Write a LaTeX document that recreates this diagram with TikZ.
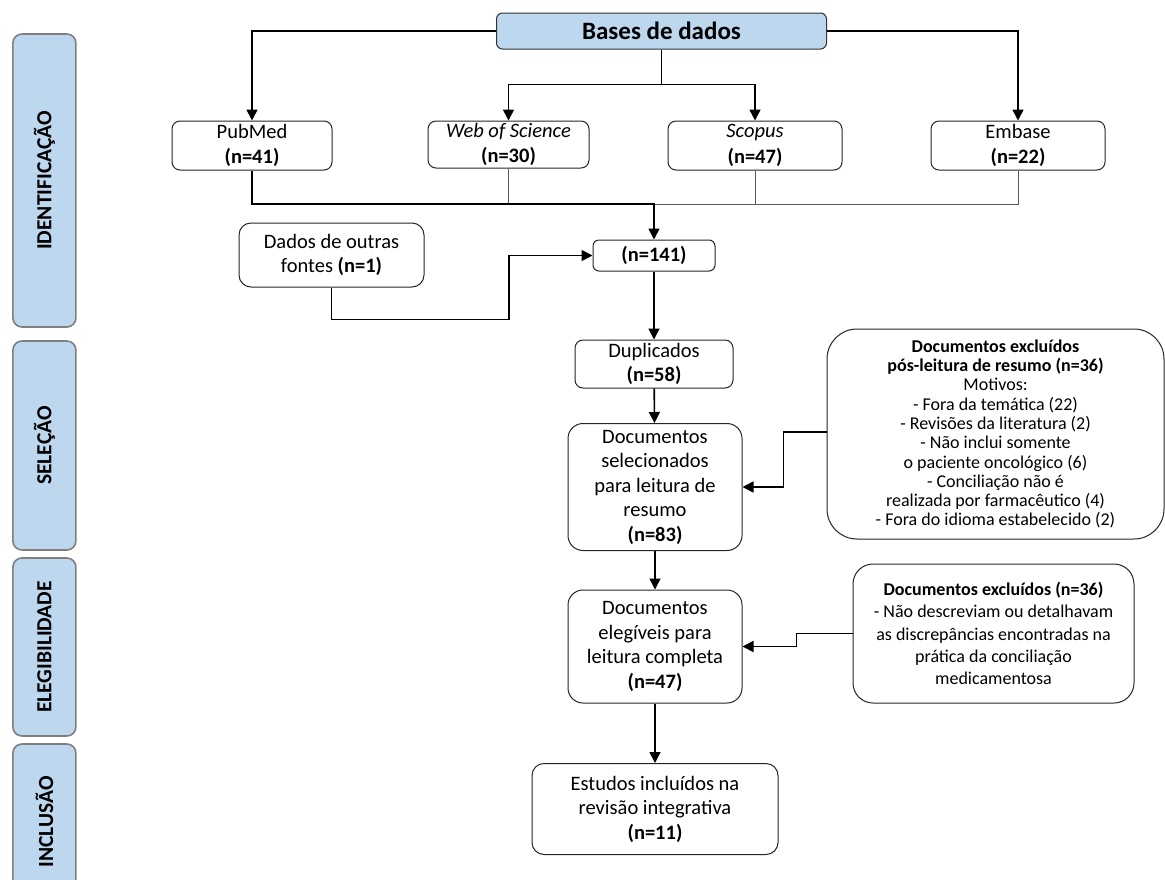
\documentclass[tikz,border=0pt]{standalone}
\usepackage{fontspec}
\setmainfont{Carlito}
\usepackage{tikz}
\usetikzlibrary{arrows.meta, positioning, shapes.geometric}
\definecolor{phaseBlue}{HTML}{BDD7EE}
\definecolor{phaseGray}{HTML}{7F7F7F}
\definecolor{lineGray}{HTML}{595959}

\begin{document}
\begin{tikzpicture}[x=1pt,y=-1pt,
 box/.style={rectangle,rounded corners=8pt,draw=black!85,line width=1pt,fill=white,
 align=center,inner sep=2pt,font=\fontsize{20.5}{24.5}\selectfont},
 note/.style={box,font=\fontsize{18}{19.3}\selectfont},
 phase/.style={rectangle,rounded corners=9pt,draw=phaseGray,line width=1.6pt,fill=phaseBlue,
 rotate=90,minimum height=63pt,font=\bfseries\fontsize{21.5}{24}\selectfont},
 arrow/.style={-{Triangle[length=11pt,width=11pt]},line width=1.6pt},
 thinline/.style={line width=0.9pt,draw=lineGray}]
\useasboundingbox (0,0) rectangle (1165,879);
% fases
\node[phase,minimum width=293pt] (idf) at (44.4,180.5) {IDENTIFICAÇÃO};
\node[phase,minimum width=209pt] (sele) at (44.4,445.5) {SELEÇÃO};
\node[phase,minimum width=178pt] (eleg) at (44.4,647) {ELEGIBILIDADE};
\node[phase,minimum width=156pt] (incl) at (44.4,822) {INCLUSÃO};
% bases
\node[box,rounded corners=6pt,fill=phaseBlue,draw=black!80,minimum width=330pt,minimum height=36pt,
 font=\bfseries\fontsize{25}{28}\selectfont] (bases) at (661.5,31) {Bases de dados};
\node[box,minimum width=160pt,minimum height=49pt,font=\fontsize{20.5}{25.5}\selectfont] (pub) at (252,145.5) {PubMed\\\textbf{(n=41)}};
\node[box,minimum width=161pt,minimum height=47pt,font=\fontsize{20.5}{25.5}\selectfont] (wos) at (508.5,144.5) {\textit{Web of Science}\\\textbf{(n=30)}};
\node[box,minimum width=174pt,minimum height=49pt,font=\fontsize{20.5}{25.5}\selectfont] (sco) at (755,145.5) {\textit{Scopus}\\\textbf{(n=47)}};
\node[box,minimum width=174pt,minimum height=49pt,font=\fontsize{20.5}{25.5}\selectfont] (emb) at (1018,145.5) {Embase\\\textbf{(n=22)}};
\node[box,rounded corners=12pt,minimum width=185pt,minimum height=64pt] (outras) at (331.5,255) {Dados de outras\\fontes \textbf{(n=1)}};
\node[box,rounded corners=6pt,minimum width=122pt,minimum height=31pt] (tot) at (654,255.5) {\textbf{(n=141)}};
% fluxo principal
\node[box,minimum width=158pt,minimum height=48pt] (dup) at (654,364) {Duplicados\\\textbf{(n=58)}};
\node[box,rounded corners=15pt,minimum width=174pt,minimum height=127pt] (selec) at (655,487)
 {Documentos\\selecionados\\para leitura de\\resumo\\\textbf{(n=83)}};
\node[box,rounded corners=15pt,minimum width=174pt,minimum height=113pt] (elegiv) at (655,646.5)
 {Documentos\\elegíveis para\\leitura completa\\\textbf{(n=47)}};
\node[box,rounded corners=12pt,minimum width=246pt,minimum height=91pt] (inc) at (655,809)
 {Estudos incluídos na\\revisão integrativa\\\textbf{(n=11)}};
% exclusoes
\node[note,rounded corners=30pt,minimum width=337pt,minimum height=210pt] (exc1) at (995.5,434)
 {\textbf{Documentos excluídos}\\\textbf{pós-leitura de resumo (n=36)}\\Motivos:\\- Fora da temática (22)\\- Revisões da literatura (2)\\- Não inclui somente\\o paciente oncológico (6)\\- Conciliação não é\\realizada por farmacêutico (4)\\- Fora do idioma estabelecido (2)};
\node[note,rounded corners=20pt,minimum width=281pt,minimum height=139pt,
 font=\fontsize{18}{22.2}\selectfont] (exc2) at (993.5,633.5)
 {\textbf{Documentos excluídos (n=36)}\\- Não descreviam ou detalhavam\\as discrepâncias encontradas na\\prática da conciliação\\medicamentosa};
% conectores
\draw[arrow] (bases.west) -| (pub.north);
\draw[arrow] (bases.east) -| (emb.north);
\draw[line width=1pt] (bases.south) -- ++(0,35) coordinate (split);
\draw[arrow] (split) -| (wos.north);
\draw[arrow] (split) -| (sco.north);
\coordinate (merge) at (654,204);
\draw[thinline] (wos.south) -- (wos.south |- merge);
\draw[thinline] (sco.south) |- (merge);
\draw[thinline] (emb.south) |- (merge);
\draw[arrow] (pub.south) |- (merge) -- (tot.north);
\draw[arrow] (outras.south) -- ++(0,32) -- ++(177.5,0) |- (tot.west);
\draw[arrow] (tot) -- (dup);
\draw[arrow] (dup) -- (selec);
\draw[arrow] (selec) -- (elegiv);
\draw[arrow] (elegiv) -- (inc);
\draw[arrow] ([yshift=2pt]exc1.west) -- ++(-43,0) |- (selec.east);
\draw[arrow] (exc2.west) -- ++(-56,0) |- (elegiv.east);
\end{tikzpicture}
\end{document}
